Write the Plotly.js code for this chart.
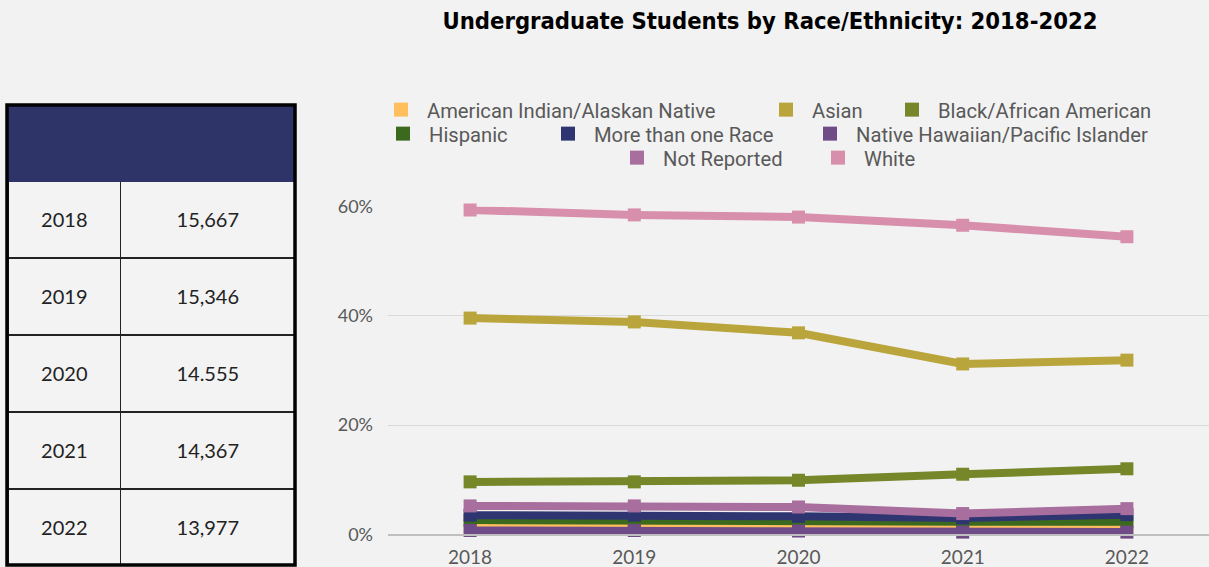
<!DOCTYPE html>
<html>
<head>
<meta charset="utf-8">
<script src="https://cdn.plot.ly/plotly-3.0.1.min.js"></script>
<style>
html,body{margin:0;padding:0;background:#f2f2f2;}
#chart{width:1209px;height:567px;}
</style>
</head>
<body>
<div id="chart"></div>
<script>
// ---- data ----
const years = ['2018', '2019', '2020', '2021', '2022'];
const totals = ['15,667', '15,346', '14.555', '14,367', '13,977'];

const seriesNames = [
  'American Indian/Alaskan Native', 'Asian', 'Black/African American', 'Hispanic',
  'More than one Race', 'Native Hawaiian/Pacific Islander', 'Not Reported', 'White'
];
const seriesColors = ['#ffbf5e', '#b9a53b', '#76872a', '#3b6a1e', '#2f3570', '#6f4c87', '#a86e9e', '#d88fab'];

const americanIndian = [0.014, 0.013, 0.012, 0.013, 0.011];
const asian          = [0.396, 0.389, 0.369, 0.312, 0.319];
const black          = [0.096, 0.096, 0.099, 0.110, 0.120];
const hispanic       = [0.026, 0.024, 0.023, 0.023, 0.023];
const moreThanOne    = [0.035, 0.035, 0.033, 0.030, 0.036];
const nativeHawaiian = [0.007, 0.007, 0.006, 0.004, 0.004];
const notReported    = [0.052, 0.052, 0.050, 0.038, 0.047];
const white          = [0.594, 0.585, 0.581, 0.566, 0.545];

const seriesValues = [americanIndian, asian, black, hispanic, moreThanOne, nativeHawaiian, notReported, white];

// ---- layout helpers ----
const W = 1209, H = 567;
const FONT = 'Roboto, Lato, sans-serif';
const TICKFONT = 'Lato, "Open Sans", sans-serif';
const px = v => v / W;
const py = v => 1 - v / H;

const traces = [];

// table (a leading blank line centres the text vertically in the tall cells)
const pad = v => '<span style="font-size:12px">\u00a0</span><br>' + v;
traces.push({
  type: 'table',
  domain: {x: [px(8), px(295)], y: [py(565), py(104)]},
  columnwidth: [113, 175],
  header: {
    values: ['', ''],
    height: 77,
    fill: {color: '#2e3468'},
    line: {color: '#2e3468', width: 1}
  },
  cells: {
    values: [years.map(pad), totals.map(pad)],
    height: 77,
    align: 'center',
    fill: {color: '#f3f3f3'},
    line: {color: '#222222', width: 1.5},
    font: {family: TICKFONT, size: 20, color: '#222222'}
  }
});

// lines
seriesNames.forEach((name, i) => {
  traces.push({
    type: 'scatter',
    mode: 'lines+markers',
    x: years,
    y: seriesValues[i],
    name: name,
    showlegend: false,
    cliponaxis: false,
    line: {color: seriesColors[i], width: 8},
    marker: {color: seriesColors[i], symbol: 'square', size: 13},
    hoverinfo: 'x+y+name'
  });
});

// legend rows: [row y px, square center x px]
const legendPos = [
  [110, 401], [110, 786], [110, 912],
  [134, 403], [134, 568], [134, 830],
  [158, 637], [158, 838]
];

const layout = {
  width: W, height: H,
  margin: {l: 0, r: 0, t: 0, b: 0},
  paper_bgcolor: '#f2f2f2',
  plot_bgcolor: '#f2f2f2',
  font: {family: TICKFONT, color: '#595959', size: 18},
  showlegend: true,
  title: {
    text: 'Undergraduate Students by Race/Ethnicity: 2018-2022',
    font: {family: '"DejaVu Sans Condensed", "Liberation Sans", Arial, sans-serif', size: 23.6, color: '#000000', weight: 'bold'},
    x: px(770), xanchor: 'center',
    y: py(21), yanchor: 'middle'
  },
  xaxis: {
    type: 'category',
    domain: [px(388), 1],
    range: [-0.5, 4.5],
    showgrid: false,
    showline: true,
    linecolor: '#bfbfbf',
    linewidth: 1.5,
    ticks: '',
    ticklabelstandoff: 5,
    tickfont: {size: 19, color: '#595959'},
    fixedrange: true
  },
  yaxis: {
    domain: [1 - 534.3 / H, 1 - 206.7 / H],
    range: [0, 0.6],
    dtick: 0.2,
    tickformat: '.0%',
    showgrid: true,
    gridcolor: '#d9d9d9',
    gridwidth: 1,
    zeroline: false,
    showline: false,
    ticks: '',
    ticklabelstandoff: 14,
    tickfont: {size: 18, color: '#595959'},
    fixedrange: true
  },
  shapes: [
    {type: 'rect', xref: 'paper', yref: 'paper', x0: px(7), x1: px(295), y0: py(565), y1: py(105),
     line: {color: '#000000', width: 3.5}, layer: 'above'}
  ]
};

seriesNames.forEach((name, i) => {
  const key = i === 0 ? 'legend' : 'legend' + (i + 1);
  traces.push({
    type: 'scatter',
    mode: 'markers',
    x: [null], y: [null],
    name: name,
    legend: key === 'legend' ? undefined : key,
    showlegend: true,
    marker: {color: seriesColors[i], symbol: 'square', size: 14},
    hoverinfo: 'skip'
  });
  layout[key] = {
    x: px(legendPos[i][1] - 26),
    xanchor: 'left',
    y: py(legendPos[i][0]),
    yanchor: 'middle',
    orientation: 'h',
    bgcolor: 'rgba(0,0,0,0)',
    borderwidth: 0,
    itemwidth: 42,
    font: {family: FONT, size: 20.2, color: '#595959'}
  };
});

Plotly.newPlot('chart', traces, layout, {displayModeBar: false, staticPlot: true});
</script>
</body>
</html>
